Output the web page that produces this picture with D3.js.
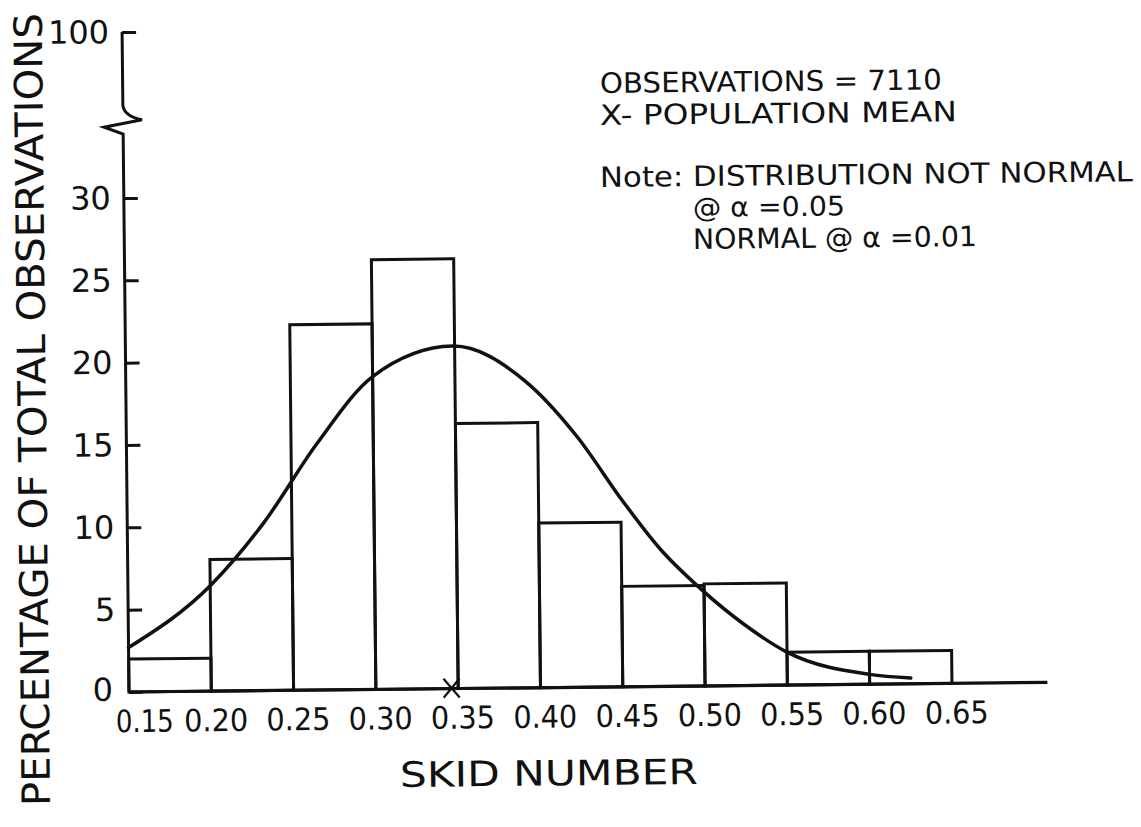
<!DOCTYPE html>
<html><head><meta charset="utf-8">
<script src="https://cdn.jsdelivr.net/npm/d3@7"></script>
<style>body{margin:0;background:#fff} svg{display:block}</style>
</head><body><svg id="c" width="1141" height="827"></svg>
<script>
// ---- data ----
const binEdges = [0.15,0.20,0.25,0.30,0.35,0.40,0.45,0.50,0.55,0.60,0.65];
const binLabels = ["0.15","0.20","0.25","0.30","0.35","0.40","0.45","0.50","0.55","0.60","0.65"];
const percentages = [2.0, 8.0, 22.2, 26.1, 16.1, 10.0, 6.1, 6.2, 2.0, 2.0];
const yTicks = [0,5,10,15,20,25,30,100];
const yTickLabels = ["0","5","10","15","20","25","30","100"];
// fitted normal curve
const curveX = [0.150,0.200,0.233,0.266,0.300,0.349,0.393,0.424,0.451,0.474,0.498,0.523,0.550,0.600,0.625];
const curveY = [2.7, 6.4, 10.2, 15.0, 19.0, 20.8, 18.6, 15.2, 11.3, 8.3, 5.9, 3.8, 2.0, 0.6, 0.35];
const populationMean = 0.346;
const notes = ["OBSERVATIONS = 7110", "X- POPULATION MEAN", "Note: DISTRIBUTION NOT NORMAL", "@ α =0.05", "NORMAL @ α =0.01"];

// ---- drawing ----
const ink = "#111";
const font = "'DejaVu Sans', sans-serif";
const tilt = -0.6;   // the scanned page is slightly rotated
const svg = d3.select("#c");
svg.append("rect").attr("width",1141).attr("height",827).attr("fill","#fff");

const g = svg.append("g").attr("transform", `translate(129,692) rotate(${tilt})`);
const x = d3.scaleLinear().domain([0.15, 0.65]).range([0, 823]);
const y = d3.scaleLinear().domain([0, 30, 100]).range([0, -494, -660]);

// bars
const bins = percentages.map((v,i)=>({x0:binEdges[i], x1:binEdges[i+1], v}));
g.selectAll("rect.bar").data(bins).join("rect").attr("class","bar")
  .attr("x", d=>x(d.x0)).attr("width", d=>x(d.x1)-x(d.x0))
  .attr("y", d=>y(d.v)).attr("height", d=>y(0)-y(d.v))
  .attr("fill","none").attr("stroke",ink).attr("stroke-width",3);

// normal curve
const pts = curveX.map((cx,i)=>[cx, curveY[i]]);
g.append("path").attr("d", d3.line().x(d=>x(d[0])).y(d=>y(d[1])).curve(d3.curveMonotoneX)(pts))
  .attr("fill","none").attr("stroke",ink).attr("stroke-width",3.5).attr("stroke-linecap","round");

// x axis baseline
g.append("line").attr("x1", x(0.15)).attr("x2", x(0.708)).attr("y1", y(0)).attr("y2", y(0))
  .attr("stroke",ink).attr("stroke-width",3.2);

// x tick labels
const xAxis = d3.axisBottom(x).tickValues(binEdges).tickSize(0).tickPadding(18)
  .tickFormat((d,i)=>binLabels[i]);
const xg = g.append("g").call(xAxis);
xg.select(".domain").remove();
xg.selectAll("text").attr("font-family",font).attr("font-size",31).attr("fill",ink)
  .attr("dx",(d,i)=> i===0 ? 15 : 4)
  .attr("textLength",(d,i)=> i===0 ? 58 : 64).attr("lengthAdjust","spacingAndGlyphs");

// y axis with break
const yAxis = d3.axisLeft(y).tickValues(yTicks).tickSize(-14).tickPadding(13)
  .tickFormat((d,i)=>yTickLabels[i]);
const yg = g.append("g").call(yAxis);
yg.select(".domain").remove();
yg.selectAll(".tick line").attr("stroke",ink).attr("stroke-width",3);
yg.selectAll("text").attr("font-family",font).attr("font-size",32).attr("fill",ink)
  .attr("dy",(d)=> d===0 ? "0.25em" : "0.33em")
  .attr("dx",(d)=> d===0 ? -3 : 0);

const yTop = y(100), yb = y(100) + 73;
g.append("path")
  .attr("d", `M0,${yTop} V${yb} Q1,${yb+11} 19,${yb+15} L-19,${yb+22} L0,${yb+29} V${y(0)}`)
  .attr("fill","none").attr("stroke",ink).attr("stroke-width",3).attr("stroke-linejoin","miter");

// population mean marker
const mx = x(populationMean);
g.append("path").attr("d", `M${mx-8},${-10} L${mx+8},${9} M${mx+8},${-10} L${mx-8},${9}`)
  .attr("stroke",ink).attr("stroke-width",2.2).attr("fill","none");

// texts in page coordinates
function txt(s, X, Y, size, len, extraRot=0){
  return svg.append("text").text(s)
    .attr("transform", `translate(${X},${Y}) rotate(${tilt+extraRot})`)
    .attr("font-family",font).attr("font-size",size).attr("fill",ink)
    .attr("textLength",len).attr("lengthAdjust","spacingAndGlyphs");
}
txt("SKID  NUMBER", 400, 787, 35, 298);
txt("PERCENTAGE OF TOTAL OBSERVATIONS", 50, 806, 39, 793, -90);
txt(notes[0], 600, 93, 28, 342);
txt(notes[1], 600, 125, 28, 357);
txt(notes[2], 600, 187, 28, 533);
txt(notes[3], 693, 217, 27, 152);
txt(notes[4], 693, 249, 28, 284);
</script></body></html>
